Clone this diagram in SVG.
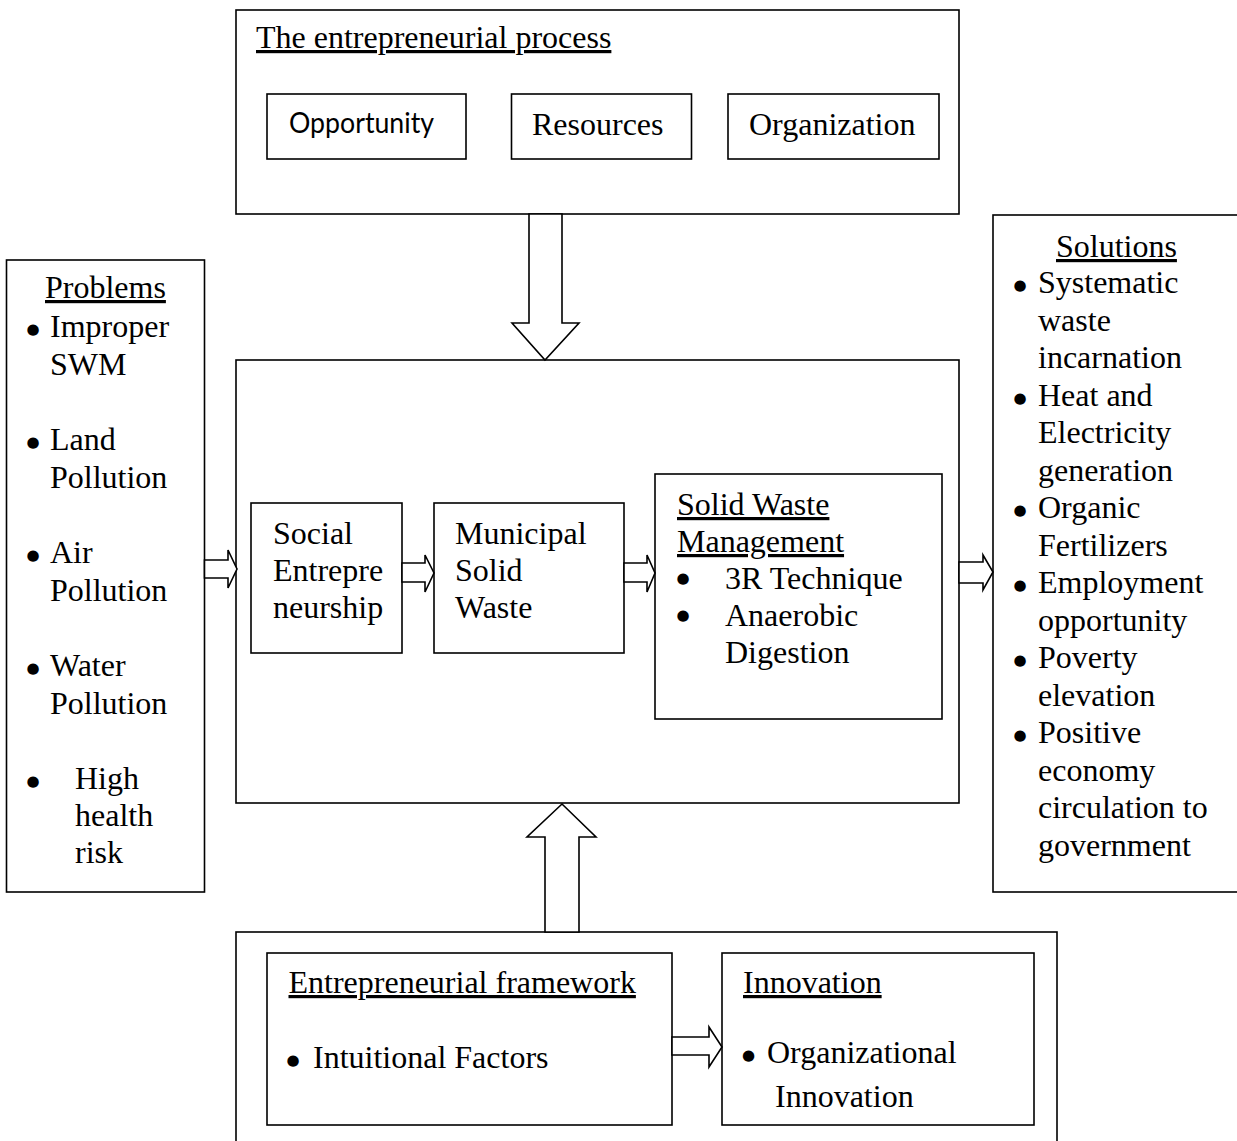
<svg xmlns="http://www.w3.org/2000/svg" width="1237" height="1141" viewBox="0 0 1237 1141">
<style>
.box{fill:#fff;stroke:#000;stroke-width:1.6}
.arr{fill:#fff;stroke:#000;stroke-width:1.6;stroke-linejoin:miter}
text{font-family:'Liberation Serif','Times New Roman',serif;font-size:32px;fill:#000}
.u{text-decoration:underline}
.sans{font-family:Lato,'Liberation Sans',sans-serif;font-size:29px}
.b{text-anchor:middle;font-family:'DejaVu Sans',sans-serif;font-size:15px}
</style>
<rect width="1237" height="1141" fill="#fff"/>

<g id="process">
<rect class="box" x="236" y="10" width="723" height="204"/>
<text class="u" x="256" y="48">The entrepreneurial process</text>
<g id="opportunity">
<rect class="box" x="267" y="94" width="199" height="65"/>
<text class="sans" x="289" y="133" textLength="145" lengthAdjust="spacingAndGlyphs">Opportunity</text>
</g>
<g id="resources">
<rect class="box" x="511.5" y="94" width="180" height="65"/>
<text x="532" y="135">Resources</text>
</g>
<g id="organization">
<rect class="box" x="728" y="94" width="211" height="65"/>
<text x="749" y="135">Organization</text>
</g>
</g>

<g id="problems">
<rect class="box" x="6.5" y="260" width="198" height="632"/>
<text class="u" x="45" y="298">Problems</text>
<text class="b" x="33" y="334">●</text>
<text x="50" y="337">Improper</text>
<text x="50" y="375">SWM</text>
<text class="b" x="33" y="447">●</text>
<text x="50" y="450">Land</text>
<text x="50" y="487.5">Pollution</text>
<text class="b" x="33" y="560">●</text>
<text x="50" y="563">Air</text>
<text x="50" y="600.5">Pollution</text>
<text class="b" x="33" y="673">●</text>
<text x="50" y="676">Water</text>
<text x="50" y="713.5">Pollution</text>
<text class="b" x="33" y="786">●</text>
<text x="75" y="789">High</text>
<text x="75" y="826">health</text>
<text x="75" y="863">risk</text>
</g>

<g id="solutions">
<rect class="box" x="993" y="215" width="260" height="677"/>
<text class="u" x="1056" y="257">Solutions</text>
<text class="b" x="1020" y="290">●</text>
<text x="1038" y="293">Systematic</text>
<text x="1038" y="330.5">waste</text>
<text x="1038" y="368">incarnation</text>
<text class="b" x="1020" y="402.5">●</text>
<text x="1038" y="405.5">Heat and</text>
<text x="1038" y="443">Electricity</text>
<text x="1038" y="480.5">generation</text>
<text class="b" x="1020" y="515">●</text>
<text x="1038" y="518">Organic</text>
<text x="1038" y="555.5">Fertilizers</text>
<text class="b" x="1020" y="590">●</text>
<text x="1038" y="593">Employment</text>
<text x="1038" y="630.5">opportunity</text>
<text class="b" x="1020" y="665">●</text>
<text x="1038" y="668">Poverty</text>
<text x="1038" y="705.5">elevation</text>
<text class="b" x="1020" y="740">●</text>
<text x="1038" y="743">Positive</text>
<text x="1038" y="780.5">economy</text>
<text x="1038" y="818">circulation to</text>
<text x="1038" y="855.5">government</text>
</g>

<g id="core">
<rect class="box" x="236" y="360" width="723" height="443"/>
<g id="social">
<rect class="box" x="251" y="503" width="151" height="150"/>
<text x="273" y="544">Social</text>
<text x="273" y="581">Entrepre</text>
<text x="273" y="618">neurship</text>
</g>
<g id="msw">
<rect class="box" x="434" y="503" width="190" height="150"/>
<text x="455" y="544">Municipal</text>
<text x="455" y="581">Solid</text>
<text x="455" y="618">Waste</text>
</g>
<g id="swm">
<rect class="box" x="655" y="474" width="287" height="245"/>
<text class="u" x="677" y="515">Solid Waste</text>
<text class="u" x="677" y="552">Management</text>
<text class="b" x="683" y="583">●</text>
<text x="725" y="589">3R Technique</text>
<text class="b" x="683" y="620">●</text>
<text x="725" y="626">Anaerobic</text>
<text x="725" y="663">Digestion</text>
</g>
</g>

<g id="framework-group">
<rect class="box" x="236" y="932" width="821" height="230"/>
<g id="framework">
<rect class="box" x="267" y="953" width="405" height="172"/>
<text class="u" x="288.5" y="993">Entrepreneurial framework</text>
<text class="b" x="293" y="1065">●</text>
<text x="313" y="1068">Intuitional Factors</text>
</g>
<g id="innovation">
<rect class="box" x="722" y="953" width="312" height="172"/>
<text class="u" x="743" y="993">Innovation</text>
<text class="b" x="748.5" y="1060">●</text>
<text x="767" y="1063">Organizational</text>
<text x="775" y="1107">Innovation</text>
</g>
</g>

<g id="connectors">
<polygon class="arr" points="529,214 529,323 512,323 545,360 579,323 562,323 562,214"/>
<polygon class="arr" points="545,932 545,837 527,837 562,804 596,837 579,837 579,932"/>
<polygon class="arr" points="204.5,560 228,560 228,550 237,569 228,588 228,578 204.5,578"/>
<polygon class="arr" points="402,563 425,563 425,555 434,573 425,592 425,582 402,582"/>
<polygon class="arr" points="624,563 647,563 647,555 655,573 647,592 647,582 624,582"/>
<polygon class="arr" points="959,562 983,562 983,555 993,572 983,590 983,583 959,583"/>
<polygon class="arr" points="672,1037 709,1037 709,1027 722,1047 709,1067 709,1055 672,1055"/>
</g>
</svg>
